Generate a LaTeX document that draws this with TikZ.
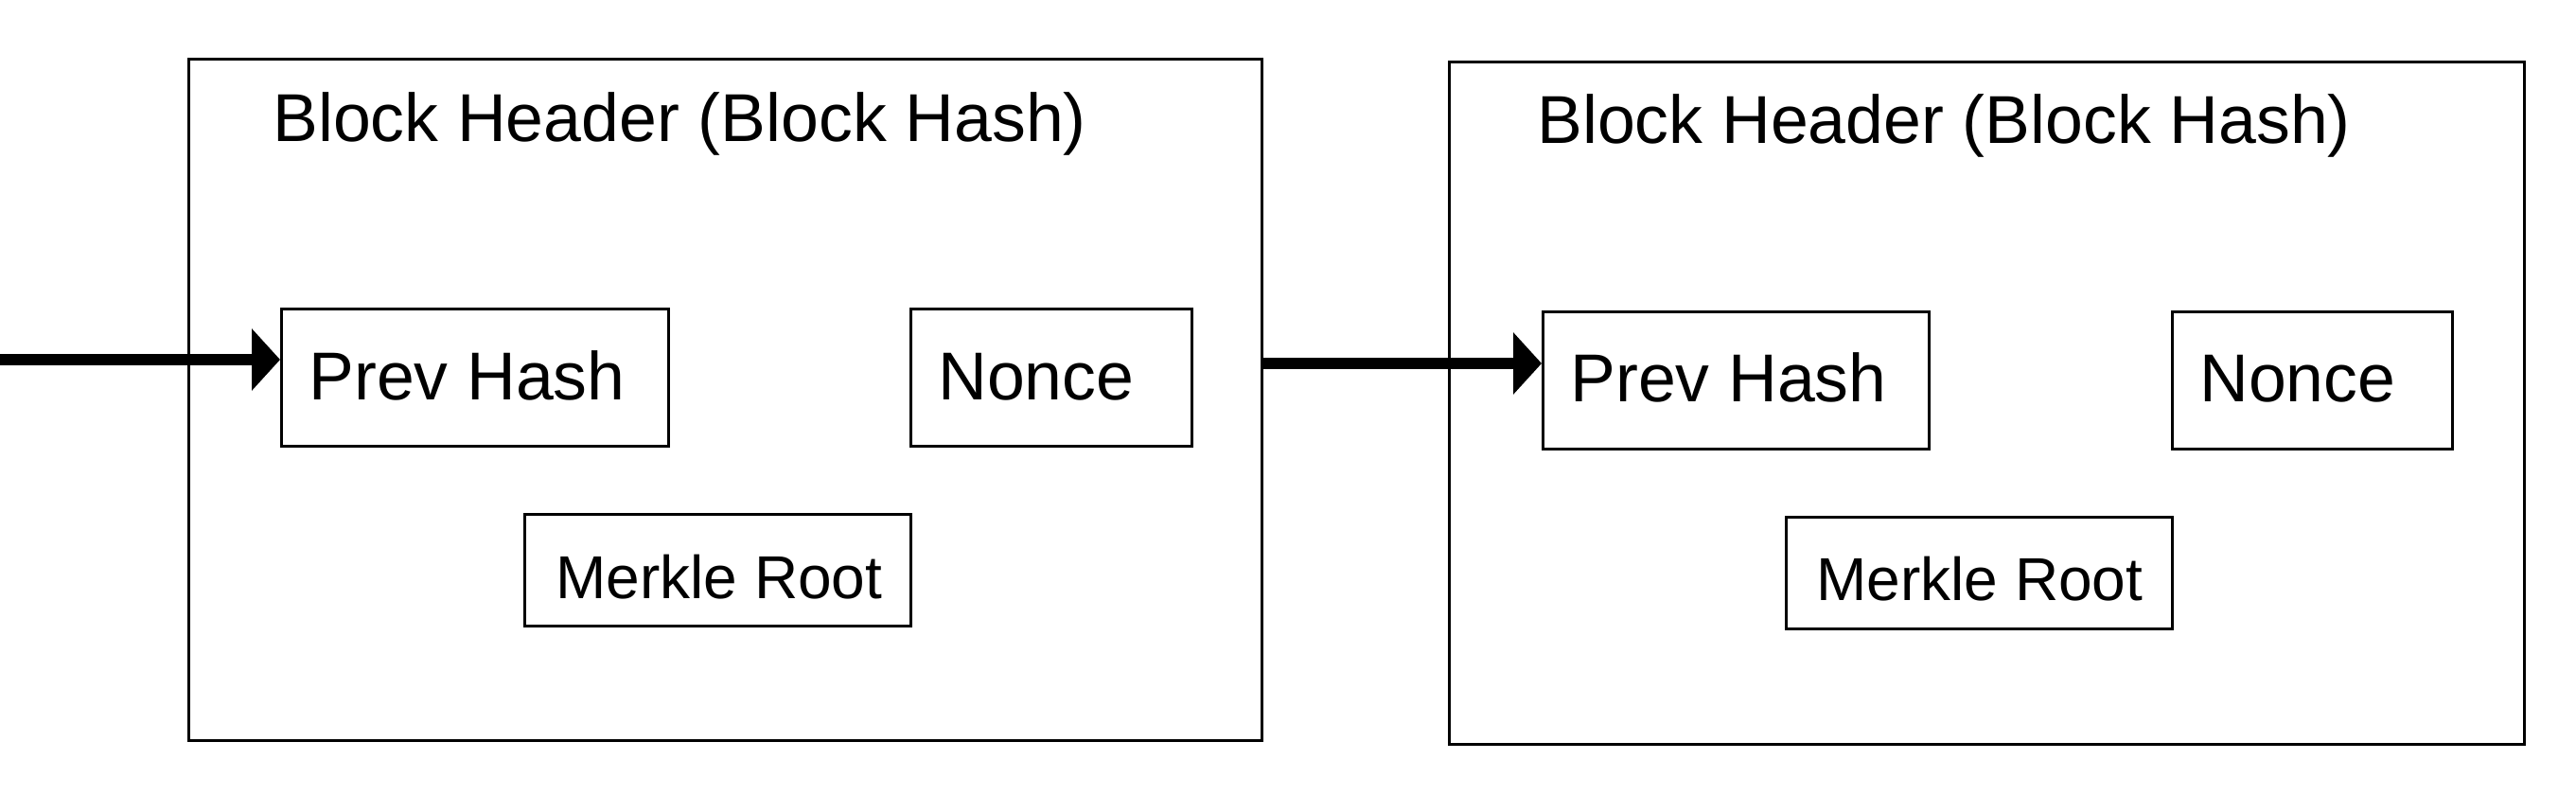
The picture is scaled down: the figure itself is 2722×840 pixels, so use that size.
\documentclass[tikz,border=0pt]{standalone}
\usepackage{fontspec}
\setmainfont{Liberation Sans}
\usetikzlibrary{arrows.meta}
\tikzset{
  outer/.style={draw=black, line width=1.5pt, anchor=north west, inner sep=0pt},
  inbox/.style={draw=black, line width=1.5pt, anchor=north west, inner sep=0pt},
  big/.style={anchor=base west, inner sep=0pt, font=\fontsize{35.8}{40}\selectfont},
  small/.style={anchor=base west, inner sep=0pt, font=\fontsize{32}{36}\selectfont},
  conn/.style={line width=6pt, -{Triangle[length=15pt,width=32pt]}},
}
\begin{document}
\begin{tikzpicture}[x=0.5pt,y=-0.5pt]
\useasboundingbox (0,0) rectangle (2722,840);
% left block
\node[outer, minimum width=567pt, minimum height=360pt] (blk1) at (198,61) {};
\node[big] (hd1) at (288,149) {Block Header (Block Hash)};
\node[inbox, minimum width=204.5pt, minimum height=72.5pt] (ph1) at (296,325) {};
\node[big] (tph1) at (326,422) {Prev Hash};
\node[inbox, minimum width=148.5pt, minimum height=72.5pt] (nc1) at (961,325) {};
\node[big] (tnc1) at (991,422) {Nonce};
\node[inbox, minimum width=204pt, minimum height=59pt] (mr1) at (553,542) {};
\node[small] (tmr1) at (587,632) {Merkle Root};
% right block
\node[outer, minimum width=568pt, minimum height=360.5pt] (blk2) at (1530,64) {};
\node[big] (hd2) at (1624,152) {Block Header (Block Hash)};
\node[inbox, minimum width=204pt, minimum height=72.5pt] (ph2) at (1629,328) {};
\node[big] (tph2) at (1659,424) {Prev Hash};
\node[inbox, minimum width=148pt, minimum height=72.5pt] (nc2) at (2294,328) {};
\node[big] (tnc2) at (2324,424) {Nonce};
\node[inbox, minimum width=204pt, minimum height=59pt] (mr2) at (1886,545) {};
\node[small] (tmr2) at (1919,634) {Merkle Root};
% connectors
\coordinate (s0) at (0,380);
\coordinate (s1) at (1332,384);
\draw[conn] (s0) -- (s0 -| ph1.west);
\draw[conn] (s1) -- (s1 -| ph2.west);
\end{tikzpicture}
\end{document}
